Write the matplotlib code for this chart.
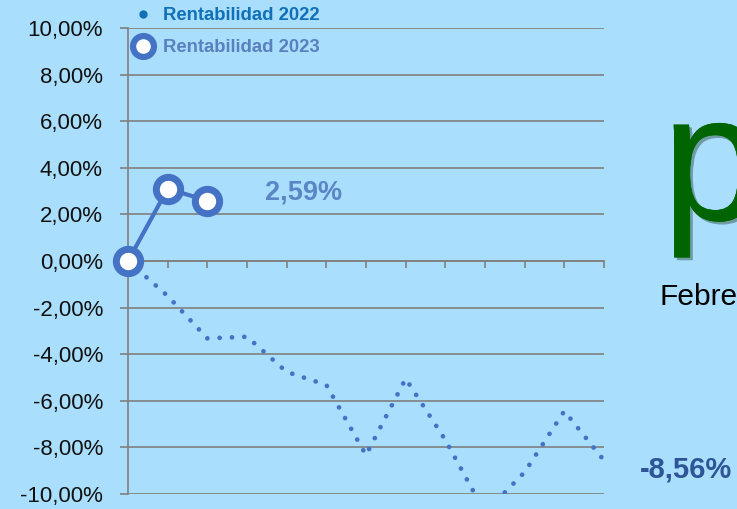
import matplotlib
matplotlib.use("Agg")
import matplotlib.pyplot as plt
from matplotlib.lines import Line2D
import matplotlib.patheffects as pe

plt.rcParams['font.family'] = ['Liberation Sans', 'DejaVu Sans']

months = list(range(13))
rent_2022 = [0, -1.50, -3.32, -3.25, -4.76, -5.32, -8.33, -5.05, -7.68, -10.80, -9.06, -6.44, -8.56]
months_2023 = [0, 1, 2]
rent_2023 = [0, 3.10, 2.59]
y_ticks = [-10, -8, -6, -4, -2, 0, 2, 4, 6, 8, 10]
y_labels = ["-10,00%", "-8,00%", "-6,00%", "-4,00%", "-2,00%", "0,00%",
            "2,00%", "4,00%", "6,00%", "8,00%", "10,00%"]
labels = ["Rentabilidad 2022", "Rentabilidad 2023"]

BG = "#a9defc"
BLUE = "#4472c4"
GRID = "#808080"

W, H = 737, 509
fig = plt.figure(figsize=(W / 100, H / 100), dpi=100, facecolor=BG)
ax = fig.add_axes([128 / W, 15 / H, 476 / W, 466 / H], facecolor=BG)

ax.set_xlim(0, 12)
ax.set_ylim(-10, 10)

ax.plot(months, rent_2022, color=BLUE, lw=3.4, linestyle=(0, (0.01, 2.6)),
        dash_capstyle='round', zorder=3)
ax.plot(months_2023, rent_2023, color=BLUE, lw=3.0, marker='o', ms=17.5,
        mfc='white', mec=BLUE, mew=5, zorder=4, clip_on=False)

ax.set_yticks(y_ticks)
ax.set_yticklabels(y_labels, fontsize=16, color='#111111')
ax.set_xticks(months)
ax.set_xticklabels([])
ax.grid(axis='y', color=GRID, lw=1.2, zorder=1)
ax.tick_params(axis='y', length=6, width=1.2, color=GRID, pad=12)
ax.tick_params(axis='x', length=5, width=1.2, color=GRID, direction='out')
for s in ['top', 'right']:
    ax.spines[s].set_visible(False)
ax.spines['left'].set_color(GRID)
ax.spines['left'].set_linewidth(1.2)
ax.spines['bottom'].set_position(('data', 0))
ax.spines['bottom'].set_color(GRID)
ax.spines['bottom'].set_linewidth(1.2)

handles = [Line2D([], [], color='#1070b8', marker='o', ms=5, lw=0),
           Line2D([], [], color=BLUE, marker='o', ms=15, mfc='white', mec=BLUE, mew=4.5, lw=0)]
leg = fig.legend(handles, labels, loc='upper left', bbox_to_anchor=(134 / W, 1 - 7 / H),
                 frameon=False, handlelength=1.0, handletextpad=0.57, labelspacing=0.82,
                 borderpad=0, borderaxespad=0,
                 prop={'size': 13.3, 'weight': 'bold'},
                 labelcolor=['#1070b8', '#5a80c0'])

ax.text(3.45, 2.95, "2,59%", fontsize=19.5, fontweight='bold', color='#5a86c6',
        ha='left', va='center')
fig.text(640 / W, 1 - 470 / H, "-8,56%", fontsize=21, fontweight='bold',
         color='#2e5597', ha='left', va='center')
fig.text(660 / W, 1 - 297 / H, "Febre", fontsize=21.5, color='black',
         ha='left', va='center')
fig.text(662 / W, 1 - 220 / H, "p", fontsize=130, color='#006400',
         ha='left', va='baseline',
         path_effects=[pe.withSimplePatchShadow(offset=(2, -2), alpha=0.35), pe.Normal()])

fig.savefig("out.png", dpi=100, facecolor=BG)
